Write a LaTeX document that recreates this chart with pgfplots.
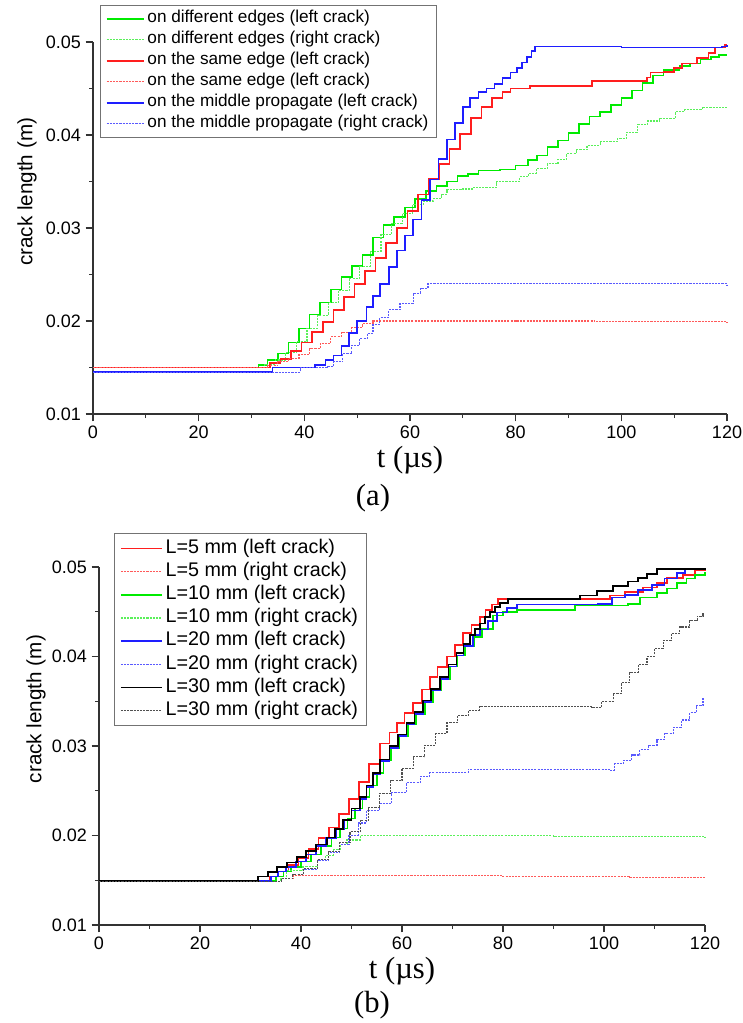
\documentclass[border=0pt]{standalone}
\usepackage{pgfplots}
\pgfplotsset{compat=1.18}
\usepackage{fontspec}
\setmainfont{Liberation Sans}
\newfontfamily\serif{Liberation Serif}

\definecolor{cgreen}{RGB}{0,235,0}
\definecolor{cgreenl}{RGB}{90,240,90}
\definecolor{cred}{RGB}{255,30,30}
\definecolor{credl}{RGB}{255,90,90}
\definecolor{cblue}{RGB}{30,30,255}
\definecolor{cbluel}{RGB}{90,90,255}
\definecolor{cblackl}{RGB}{80,80,80}

\pgfplotsset{
  myaxis/.style={
    scale only axis, axis lines=left, axis line style={-, line width=1pt, black!80},
    xmin=0, xmax=120, ymin=0.01, ymax=0.05,
    xtick={0,20,...,120}, minor x tick num=1,
    ytick={0.01,0.02,0.03,0.04,0.05}, minor y tick num=1,
    scaled y ticks=false,
    yticklabel style={/pgf/number format/fixed, /pgf/number format/precision=2},
    /pgf/number format/assume math mode=true,
    tick align=outside, major tick length=5.5pt, minor tick length=3pt,
    tick style={line width=0.9pt, black!80},
    ticklabel style={font=\fontsize{13.5}{16}\selectfont},
    clip=false,
    legend cell align=left,
    legend image code/.code={\draw[##1] (0pt,0pt) -- (28pt,0pt);},
  },
  sol/.style={const plot, line width=1.2pt, no marks},
  dsh/.style={const plot, line width=0.85pt, no marks, dash pattern=on 1.6pt off 0.8pt},
}

\begin{document}
\begin{tikzpicture}
\path[use as bounding box] (0pt,0pt) rectangle (556.5pt,-767.25pt);

% ---------------- (a) ----------------
\begin{axis}[myaxis,
  at={(69.75pt,-310.5pt)}, anchor=south west,
  width=475.5pt, height=279pt,
  xlabel={t (µs)}, ylabel={crack length (m)},
  xlabel style={at={(axis description cs:0.5,-0.125)}, anchor=center, font={\serif\fontsize{23}{26}\selectfont}},
  ylabel style={at={(axis description cs:-0.104,0.597)}, anchor=center, font=\fontsize{15.5}{18}\selectfont},
  legend style={at={(axis description cs:0.011,1.0995)}, anchor=north west, draw=black!55, line width=0.8pt,
    font=\fontsize{12.9}{15}\selectfont, row sep=3.75pt, inner xsep=4pt, inner ysep=4pt,
    nodes={inner ysep=0pt, text height=9pt, text depth=3pt}},
]
\addplot[sol, cgreen] coordinates {(0,0.0150)(31.3,0.0153)(33,0.0158)(35,0.0165)(37,0.0177)(39,0.0192)(41,0.0207)(43,0.0220)(45,0.0234)(47,0.0247)(49,0.0259)(51,0.0271)(53,0.0290)(55,0.0303)(57,0.0312)(59,0.0322)(61,0.0331)(63,0.0340)(65,0.0345)(67,0.0350)(69,0.0356)(71,0.0358)(73,0.0362)(77,0.0363)(80,0.0367)(82.3,0.0373)(84,0.0378)(86,0.0387)(88,0.0394)(90,0.0402)(92,0.0412)(94,0.0420)(96,0.0425)(98,0.0432)(100,0.0440)(102,0.0448)(104,0.0456)(106,0.0464)(108,0.0470)(111,0.0474)(113,0.0477)(115,0.0481)(117,0.0484)(118.5,0.0486)(120,0.0486)};
\addlegendentry{on different edges (left crack)}
\addplot[dsh, cgreenl] coordinates {(0,0.0150)(32.5,0.0153)(34.5,0.0158)(36.5,0.0166)(38.5,0.0178)(40.5,0.0192)(42.5,0.0206)(44.5,0.0220)(46.5,0.0233)(48.5,0.0246)(50.5,0.0259)(52.5,0.0275)(54.5,0.0293)(56.5,0.0305)(58.5,0.0316)(60.5,0.0325)(62.5,0.0329)(64.5,0.0332)(66,0.0336)(67,0.0341)(70,0.0342)(72,0.0344)(76.4,0.0350)(80.8,0.0355)(82.5,0.0359)(84,0.0364)(86,0.0369)(88,0.0374)(89.7,0.0380)(91.5,0.0384)(93.5,0.0389)(96,0.0393)(99.2,0.0396)(101,0.0403)(103,0.0411)(105,0.0415)(107.3,0.0418)(110.2,0.0425)(112,0.0427)(115.3,0.0430)(120,0.0430)};
\addlegendentry{on different edges (right crack)}
\addplot[sol, cred] coordinates {(0,0.0150)(33.5,0.0155)(35.5,0.0159)(37.5,0.0168)(39.5,0.0177)(41.5,0.0188)(43.5,0.0199)(45.5,0.0212)(47.5,0.0226)(49.5,0.0240)(51.5,0.0254)(53.5,0.0268)(55.5,0.0284)(57.5,0.0300)(59.5,0.0318)(61.5,0.0336)(63.5,0.0353)(65.5,0.0369)(67.5,0.0385)(69.5,0.0401)(71.5,0.0418)(73.5,0.0430)(75.5,0.0440)(77.5,0.0446)(79,0.0450)(82.7,0.0453)(94.5,0.0458)(104.8,0.0462)(105.5,0.0467)(108,0.0468)(110,0.0472)(111.5,0.0477)(114.3,0.0483)(116.5,0.0488)(117.7,0.0494)(119.6,0.0497)(120,0.0497)};
\addlegendentry{on the same edge (left crack)}
\addplot[dsh, credl] coordinates {(0,0.0150)(33,0.0152)(35,0.0156)(37,0.0160)(39,0.0164)(41,0.0170)(43,0.0176)(45,0.0183)(47,0.0188)(49,0.0193)(51,0.0197)(53,0.0200)(80,0.0200)(95,0.0199)(120,0.0198)};
\addlegendentry{on the same edge (left crack)}
\addplot[sol, cblue] coordinates {(0,0.0145)(34,0.0150)(42,0.0153)(44,0.0158)(45.5,0.0163)(47,0.0173)(48.5,0.0187)(50,0.0200)(51.8,0.0215)(53,0.0227)(54.3,0.0240)(56,0.0258)(57.5,0.0276)(59,0.0292)(60.6,0.0309)(62.2,0.0330)(63.8,0.0352)(65.4,0.0374)(67,0.0395)(68.5,0.0413)(70,0.0430)(71.4,0.0440)(73,0.0446)(74.5,0.0450)(76,0.0455)(77.5,0.0461)(79,0.0467)(80.2,0.0472)(81.2,0.0478)(82.1,0.0484)(83,0.0490)(83.7,0.0495)(100,0.0494)(119,0.0495)(120,0.0497)};
\addlegendentry{on the middle propagate (left crack)}
\addplot[dsh, cbluel] coordinates {(0,0.0145)(39.2,0.0150)(44.3,0.0151)(45.5,0.0156)(47.3,0.0165)(49,0.0174)(50.5,0.0181)(51.9,0.0187)(53,0.0196)(54.3,0.0204)(56,0.0212)(58.1,0.0219)(60.6,0.0230)(62,0.0235)(63.4,0.0240)(120,0.0239)};
\addlegendentry{on the middle propagate (right crack)}
\end{axis}

% ---------------- (b) ----------------
\begin{axis}[myaxis,
  at={(74.25pt,-693.75pt)}, anchor=south west,
  width=454.5pt, height=268.5pt,
  xlabel={t (µs)}, ylabel={crack length (m)},
  xlabel style={at={(axis description cs:0.5,-0.128)}, anchor=center, font={\serif\fontsize{23}{26}\selectfont}},
  ylabel style={at={(axis description cs:-0.104,0.603)}, anchor=center, font=\fontsize{15.5}{18}\selectfont},
  legend style={at={(axis description cs:0.025,1.0944)}, anchor=north west, draw=black!55, line width=0.8pt,
    font=\fontsize{14.8}{17}\selectfont, row sep=3.4pt, inner xsep=4pt, inner ysep=4pt,
    nodes={inner ysep=0pt, text height=10.5pt, text depth=3.5pt}},
  legend image code/.code={\draw[#1] (0pt,0pt) -- (31pt,0pt);},
]
\addplot[sol, cred] coordinates {(0,0.0149)(33.8,0.0154)(35.5,0.0160)(37.5,0.0167)(39.5,0.0175)(41.5,0.0185)(43.5,0.0197)(45.5,0.0209)(47.5,0.0224)(49.5,0.0241)(51.5,0.0260)(53.5,0.0280)(55.6,0.0303)(57.5,0.0315)(59,0.0326)(60.5,0.0337)(62.2,0.0348)(64,0.0363)(65.5,0.0377)(67,0.0388)(68.9,0.0400)(70.5,0.0413)(72.1,0.0426)(73.8,0.0435)(75.4,0.0444)(76.5,0.0452)(77.8,0.0458)(79,0.0464)(101.2,0.0468)(104.2,0.0472)(107.7,0.0477)(110.5,0.0482)(112.5,0.0488)(115.6,0.0491)(118,0.0496)(120,0.0497)};
\addlegendentry{L=5 mm (left crack)}
\addplot[dsh, credl] coordinates {(0,0.0149)(36,0.0152)(38.5,0.0155)(80,0.0154)(105,0.0153)(120,0.0153)};
\addlegendentry{L=5 mm (right crack)}
\addplot[sol, cgreen] coordinates {(0,0.0149)(35,0.0154)(36.5,0.0160)(38,0.0165)(40,0.0171)(42,0.0179)(44,0.0188)(46,0.0198)(47.7,0.0208)(49.2,0.0219)(50.7,0.0230)(52.2,0.0243)(53.6,0.0256)(55,0.0270)(56.3,0.0284)(57.8,0.0297)(59.5,0.0311)(61.2,0.0324)(62.8,0.0336)(64.5,0.0349)(66.1,0.0362)(67.8,0.0375)(69.5,0.0389)(71,0.0401)(72.5,0.0411)(74.2,0.0422)(75.8,0.0431)(78,0.0446)(80,0.0450)(82.8,0.0452)(94.3,0.0457)(104.8,0.0459)(107.1,0.0466)(110.5,0.0471)(112.5,0.0476)(114.5,0.0482)(116.3,0.0487)(118,0.0491)(120,0.0494)};
\addlegendentry{L=10 mm (left crack)}
\addplot[dsh, cgreenl] coordinates {(0,0.0149)(36,0.0152)(37.2,0.0161)(40.4,0.0165)(43.2,0.0173)(44.8,0.0178)(46.4,0.0184)(47.8,0.0190)(49.1,0.0195)(51.7,0.0200)(65,0.0200)(90,0.0199)(120,0.0197)};
\addlegendentry{L=10 mm (right crack)}
\addplot[sol, cblue] coordinates {(0,0.0149)(34,0.0154)(35.5,0.0160)(37,0.0165)(39,0.0171)(41,0.0179)(43,0.0188)(45,0.0197)(47,0.0207)(48.5,0.0217)(50,0.0228)(51.7,0.0241)(53,0.0254)(54.3,0.0268)(55.6,0.0283)(57.5,0.0298)(59.2,0.0311)(60.9,0.0324)(62.5,0.0336)(64.2,0.0349)(65.8,0.0362)(67.5,0.0375)(69.2,0.0389)(70.8,0.0401)(72.2,0.0412)(74.1,0.0424)(75.4,0.0430)(77,0.0440)(78.8,0.0449)(80.8,0.0454)(82.8,0.0458)(98.8,0.0459)(101.6,0.0466)(104.2,0.0469)(106.7,0.0474)(109.5,0.0480)(112,0.0487)(114.5,0.0493)(116,0.0497)(120,0.0497)};
\addlegendentry{L=20 mm (left crack)}
\addplot[dsh, cbluel] coordinates {(0,0.0149)(36.2,0.0152)(38.4,0.0156)(40.5,0.0162)(43.2,0.0172)(45.5,0.0181)(47.7,0.0190)(49.5,0.0200)(51.3,0.0214)(53,0.0228)(55.6,0.0236)(58,0.0248)(60.9,0.0259)(63.6,0.0266)(65.5,0.0270)(73.1,0.0274)(101.2,0.0273)(102,0.0280)(103.8,0.0284)(105.5,0.0290)(107.1,0.0296)(108.8,0.0301)(110.5,0.0307)(112,0.0314)(113.7,0.0321)(115.3,0.0329)(117,0.0337)(118.3,0.0345)(119.6,0.0354)};
\addlegendentry{L=20 mm (right crack)}
\addplot[sol, black] coordinates {(0,0.0149)(31.5,0.0154)(33.5,0.0159)(35.2,0.0165)(37.2,0.0170)(39.2,0.0176)(41,0.0183)(43,0.0190)(45.1,0.0198)(46.7,0.0207)(48.3,0.0217)(50,0.0230)(51.7,0.0243)(53,0.0256)(54.3,0.0270)(55.6,0.0285)(57.5,0.0300)(59.2,0.0313)(60.9,0.0326)(62.5,0.0338)(64.2,0.0351)(65.8,0.0364)(67.5,0.0377)(69.2,0.0391)(70.8,0.0404)(72.2,0.0414)(73.5,0.0424)(74.5,0.0431)(75.4,0.0437)(76.4,0.0444)(77.4,0.0450)(78.4,0.0455)(79.4,0.0460)(81,0.0464)(95.2,0.0468)(98.6,0.0473)(101.8,0.0479)(104.8,0.0484)(106.7,0.0488)(108.5,0.0492)(110.5,0.0498)(120,0.0497)};
\addlegendentry{L=30 mm (left crack)}
\addplot[dsh, cblackl] coordinates {(0,0.0149)(36.2,0.0152)(38.4,0.0156)(40.5,0.0163)(43.2,0.0173)(45.5,0.0182)(47.7,0.0192)(49.7,0.0204)(51.7,0.0217)(53.4,0.0231)(55.6,0.0247)(57.8,0.0261)(60,0.0275)(62.2,0.0288)(64.5,0.0301)(66.7,0.0314)(68.9,0.0326)(71,0.0334)(73.1,0.0340)(75.4,0.0344)(92.6,0.0344)(97.6,0.0343)(99.5,0.0350)(101.8,0.0359)(103.5,0.0371)(105.1,0.0382)(106.8,0.0391)(108.5,0.0400)(110,0.0409)(111.7,0.0418)(113.3,0.0426)(115,0.0433)(117,0.0440)(118.5,0.0445)(119.6,0.0449)};
\addlegendentry{L=30 mm (right crack)}
\end{axis}

\node[font={\serif\fontsize{23}{26}\selectfont}] at (279.75pt,-373.5pt) {(a)};
\node[font={\serif\fontsize{23}{26}\selectfont}] at (279pt,-753.5pt) {(b)};
\end{tikzpicture}
\end{document}
